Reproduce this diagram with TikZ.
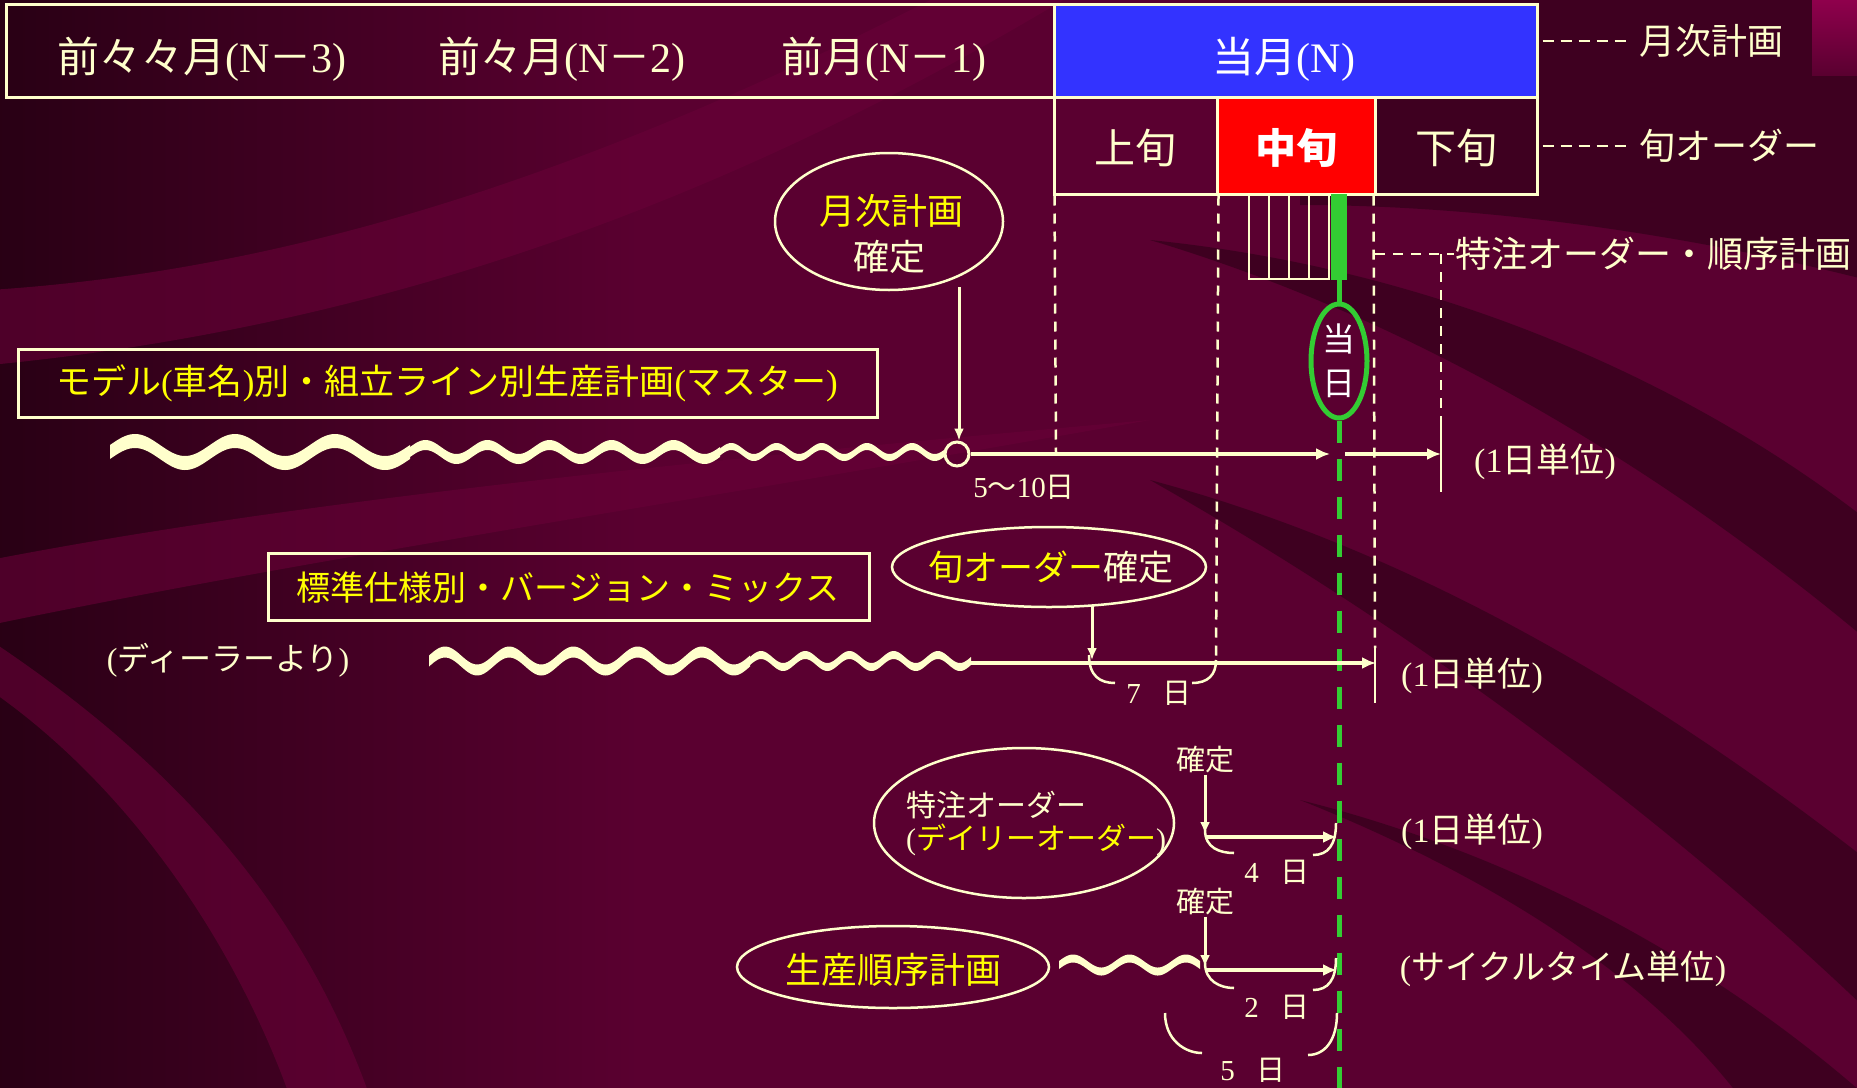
\documentclass[tikz,border=0pt]{standalone}
\usepackage{fontspec}
\setmainfont{Liberation Serif}
\newfontfamily\jp{Noto Sans CJK JP}
\usetikzlibrary{arrows.meta,shapes.geometric,calc}
\definecolor{cream}{RGB}{255,255,204}
\definecolor{bgbase}{RGB}{90,0,48}
\definecolor{bgdark}{RGB}{40,0,20}
\definecolor{bglight}{RGB}{104,0,55}
\definecolor{ylw}{RGB}{255,255,0}
\definecolor{bluebox}{RGB}{51,51,255}
\definecolor{grn}{RGB}{51,204,51}
\definecolor{pinkc}{RGB}{150,0,80}
\newcommand{\setfs}[1]{\fontsize{#1}{#1}\selectfont}
% x0 x1 cycles amp thick yc
\newcommand{\mywave}[6]{%
  \fill[cream] plot[domain=#1:#2,samples=150] (\x,{#6-#4*sin(((\x-#1)/(#2-#1))*360*#3)-#5/2})
   -- plot[domain=#2:#1,samples=150] (\x,{#6-#4*sin(((\x-#1)/(#2-#1))*360*#3)+#5/2}) -- cycle;}
\begin{document}
\begin{tikzpicture}[x=1pt,y=-1pt,
  cell/.style={draw=cream, line width=3pt, inner sep=0pt, rectangle},
  txt/.style={text=cream, inner sep=1pt},
  ytxt/.style={text=ylw, inner sep=1pt},
  ell/.style={draw=cream, line width=2.5pt, ellipse, inner sep=0pt},
  vdash/.style={draw=cream, line width=2.5pt, dash pattern=on 10pt off 8pt},
  ldash/.style={draw=cream, line width=2.5pt, dash pattern=on 11pt off 7pt},
  arr/.style={draw=cream, line width=4.5pt, -{Latex[length=14pt,width=12pt]}},
  darr/.style={draw=cream, line width=3pt, -{Latex[length=12pt,width=10pt]}},
  brk/.style={draw=cream, line width=2.5pt},
  solidt/.style={draw=cream, line width=2.5pt},
  lband/.style={fill=bglight, fill opacity=.6},
  dband/.style={fill=bgdark, fill opacity=.55}]
\useasboundingbox (0,0) rectangle (1857,1087);
% ---------- background ----------
\fill[bgbase] (-10,-10) rectangle (1867,1097);
\shade[left color=bgdark, right color=bgbase] (-10,-10) rectangle (640,1097);
% light swooshes (left)
\path[lband] (-10,290) .. controls (300,270) and (600,170) .. (950,-10) -- (1080,-10)
   .. controls (700,220) and (350,330) .. (-10,365) -- cycle;
\path[lband] (-10,560) .. controls (300,500) and (700,460) .. (1150,420)
   .. controls (700,500) and (300,560) .. (-10,625) -- cycle;
\path[lband] (-10,690) .. controls (120,780) and (230,930) .. (290,1097) -- (370,1097)
   .. controls (300,900) and (170,760) .. (-10,640) -- cycle;
% dark swooshes (right)
\path[dband] (1300,-10) -- (1867,-10) -- (1867,280) .. controls (1650,225) and (1450,205) .. (1300,205) -- cycle;
\path[dband] (1150,240) .. controls (1450,270) and (1700,390) .. (1867,520) -- (1867,640)
   .. controls (1700,500) and (1450,330) .. (1150,240) -- cycle;
\path[dband] (1150,480) .. controls (1450,560) and (1700,730) .. (1867,860) -- (1867,1010)
   .. controls (1700,850) and (1450,650) .. (1150,480) -- cycle;
\path[dband] (1300,800) .. controls (1500,880) and (1650,980) .. (1740,1097) -- (1867,1097)
   .. controls (1700,950) and (1500,850) .. (1300,800) -- cycle;
\shade[top color=pinkc, bottom color=bgbase] (1812,-10) rectangle (1867,75);
% ---------- top rows ----------
\node[cell, minimum width=1048, minimum height=93] (prev) at (530,50.5) {};
\node[cell, fill=bluebox, minimum width=483, minimum height=93] (cur) at (1295.5,50.5) {};
\node[cell, minimum width=163, minimum height=97] (jo) at (1135.5,145.5) {};
\node[cell, fill=red, minimum width=158, minimum height=97] (chu) at (1296,145.5) {};
\node[cell, minimum width=162, minimum height=97] (ge) at (1456,145.5) {};
\node[txt, font=\setfs{42}] (n3) at (202,59) {{\jp 前々々月}(N{\jp －}3)};
\node[txt, font=\setfs{42}] (n2) at (562,59) {{\jp 前々月}(N{\jp －}2)};
\node[txt, font=\setfs{42}] (n1) at (884,59) {{\jp 前月}(N{\jp －}1)};
\node[text=white, inner sep=1pt, font=\setfs{42}] (n0) at (1284,59) {{\jp 当月}(N)};
\node[txt, font=\jp\setfs{41}] (tjo) at (1135.5,148) {上旬};
\node[text=white, inner sep=1pt, font=\jp\bfseries\setfs{41}] (tchu) at (1296,148) {中旬};
\node[txt, font=\jp\setfs{41}] (tge) at (1456,148) {下旬};
% legends
\node[txt, anchor=west, font=\jp\setfs{36}] (lg1) at (1638,41) {月次計画};
\node[txt, anchor=west, font=\jp\setfs{36}] (lg2) at (1638,146) {旬オーダー};
\draw[ldash] ($(cur.east |- lg1)+(4,0)$) -- ($(lg1.west)+(-9,0)$);
\draw[ldash] ($(ge.east |- lg2)+(4,0)$) -- ($(lg2.west)+(-9,0)$);
% ---------- vertical dashed guides ----------
\coordinate (v1e) at (1056,454);
\coordinate (v2e) at (1216,660);
\coordinate (v3e) at (1375,648);
\draw[vdash] (jo.south west) ++(2,0) -- (v1e);
\draw[vdash] (jo.south east) -- (v2e);
\draw[vdash] (ge.south west) -- (v3e);
\draw[solidt] (v3e) -- (1375,703);
\coordinate (tk1) at (1441,254);
\coordinate (tk2) at (1441,425);
\node[txt, anchor=west, font=\jp\setfs{36}] (spec) at (1454,254) {特注オーダー・順序計画};
\draw[vdash] (1375,254) -- (spec.west);
\draw[vdash] (tk1) -- (tk2);
\draw[solidt] (tk2) -- (1441,492);
% ---------- stripes and green ----------
\node[cell, line width=2.5pt, minimum width=80, minimum height=85] (stripes) at (1289,236.5) {};
\foreach \xx in {1269,1289,1309} \draw[solidt] (\xx,194) -- (\xx,279);
\node[fill=grn, minimum width=16, minimum height=86, inner sep=0pt] (gbar) at (1339,237) {};
\node[draw=grn, line width=5pt, ellipse, minimum width=56, minimum height=114, inner sep=0pt] (today) at (1339,361) {};
\node[text=white, align=center, inner sep=0pt, font=\jp\fontsize{33}{44}\selectfont] (ttoday) at (1339,361) {当\\日};
\coordinate (gend) at (1339,1097);
\draw[grn, line width=5pt] (gbar.south) -- (today.north);
\draw[grn, line width=5pt, dash pattern=on 22pt off 16pt] (today.south) -- (gend);
% ---------- row 1: master plan ----------
\node[cell, minimum width=859, minimum height=68] (master) at (447.5,383) {};
\node[ytxt, font=\setfs{35}] (tmaster) at (447,383) {{\jp モデル}({\jp 車名}){\jp 別・組立ライン別生産計画}({\jp マスター})};
\node[ell, minimum width=228, minimum height=137] (e1) at (889,221.5) {};
\node[ytxt, font=\jp\setfs{36}] (te1a) at (891,211) {月次計画};
\node[txt, font=\jp\setfs{36}] (te1b) at (889,257) {確定};
\mywave{110}{410}{3}{11}{14}{452}
\mywave{410}{720}{5}{7}{10}{452}
\mywave{720}{946}{5}{5.5}{7}{452}
\node[circle, draw=cream, line width=3pt, minimum size=24, inner sep=0pt] (circ) at (957,454) {};
\coordinate (e1b) at (959,287);
\draw[darr] (e1b) -- (e1b |- circ.north);
\coordinate (g1) at (1330,454);
\coordinate (a2s) at (1345,454);
\coordinate (t1) at (1441,454);
\draw[arr] (circ.east) -- (g1);
\draw[arr] (a2s) -- (t1);
\node[txt, font=\setfs{29}] (d510) at (1024,487) {5{\jp 〜}10{\jp 日}};
\node[txt, font=\setfs{34}] (u1) at (1545,462) {(1{\jp 日単位})};
% ---------- row 2: jun order ----------
\node[cell, minimum width=601, minimum height=67] (std) at (568.5,586.5) {};
\node[ytxt, font=\jp\setfs{34}] (tstd) at (568,588) {標準仕様別・バージョン・ミックス};
\node[txt, font=\setfs{32}] (dealer) at (228,660) {({\jp ディーラーより})};
\node[ell, minimum width=314, minimum height=80] (e2) at (1049,567) {};
\node[txt, font=\jp\setfs{35}] (te2) at (1051,567) {{\color{ylw}旬オーダー}確定};
\coordinate (e2b) at (1092,606);
\coordinate (w2e) at (970,663);
\coordinate (t2) at (1376,663);
\mywave{429}{750}{5}{9}{11}{661}
\mywave{750}{971}{5}{6}{8}{661}
\draw[arr] (w2e) -- (t2);
\draw[darr] (e2b) -- (1092,660);
\draw[brk] (1089,655) .. controls (1089,676) and (1100,683) .. (1115,683);
\draw[brk] (1192,683) .. controls (1208,683) and (1216,675) .. (v2e);
\node[txt, font=\setfs{29}] (d7) at (1159,693) {7\hspace{22pt}{\jp 日}};
\node[txt, font=\setfs{34}] (u2) at (1472,676) {(1{\jp 日単位})};
% ---------- row 3: daily order ----------
\node[ell, minimum width=300, minimum height=150] (e3) at (1024,823) {};
\node[txt, anchor=west, font=\jp\setfs{30}] (te3a) at (905,805) {特注オーダー};
\node[txt, anchor=west, font=\setfs{30}] (te3b) at (905,840) {({\jp\color{ylw}デイリーオーダー})};
\node[txt, font=\jp\setfs{29}] (k1) at (1205,760) {確定};
\coordinate (h1s) at (1205,837);
\coordinate (h1e) at (1337,837);
\draw[darr] (k1.south) -- ($(h1s)+(0,-3)$);
\draw[arr] (h1s) -- (h1e);
\draw[brk] (1205,830) .. controls (1205,848) and (1220,853) .. (1234,853);
\draw[brk] (1313,855) .. controls (1328,855) and (1336,845) .. (1336,823);
\node[txt, font=\setfs{29}] (d4) at (1277,872) {4\hspace{22pt}{\jp 日}};
\node[txt, font=\setfs{34}] (u3) at (1472,832) {(1{\jp 日単位})};
% ---------- row 4: sequence plan ----------
\node[ell, minimum width=312, minimum height=82] (e4) at (893,967) {};
\node[ytxt, font=\jp\setfs{36}] (te4) at (893,970) {生産順序計画};
\mywave{1059}{1200}{2.5}{6.5}{8}{965}
\node[txt, font=\jp\setfs{29}] (k2) at (1205,902) {確定};
\coordinate (h2s) at (1205,970);
\coordinate (h2e) at (1337,970);
\draw[darr] (k2.south) -- ($(h2s)+(0,-3)$);
\draw[arr] (h2s) -- (h2e);
\draw[brk] (1205,963) .. controls (1205,981) and (1220,988) .. (1234,988);
\draw[brk] (1313,990) .. controls (1328,990) and (1336,980) .. (1336,958);
\node[txt, font=\setfs{29}] (d2) at (1277,1007) {2\hspace{22pt}{\jp 日}};
\draw[brk] (1165,1013) .. controls (1165,1040) and (1185,1053) .. (1202,1053);
\draw[brk] (1308,1055) .. controls (1325,1055) and (1337,1040) .. (1337,1013);
\node[txt, font=\setfs{29}] (d5) at (1253,1070) {5\hspace{22pt}{\jp 日}};
\node[txt, font=\setfs{34}] (u4) at (1563,969) {({\jp サイクルタイム単位})};
\end{tikzpicture}
\end{document}
